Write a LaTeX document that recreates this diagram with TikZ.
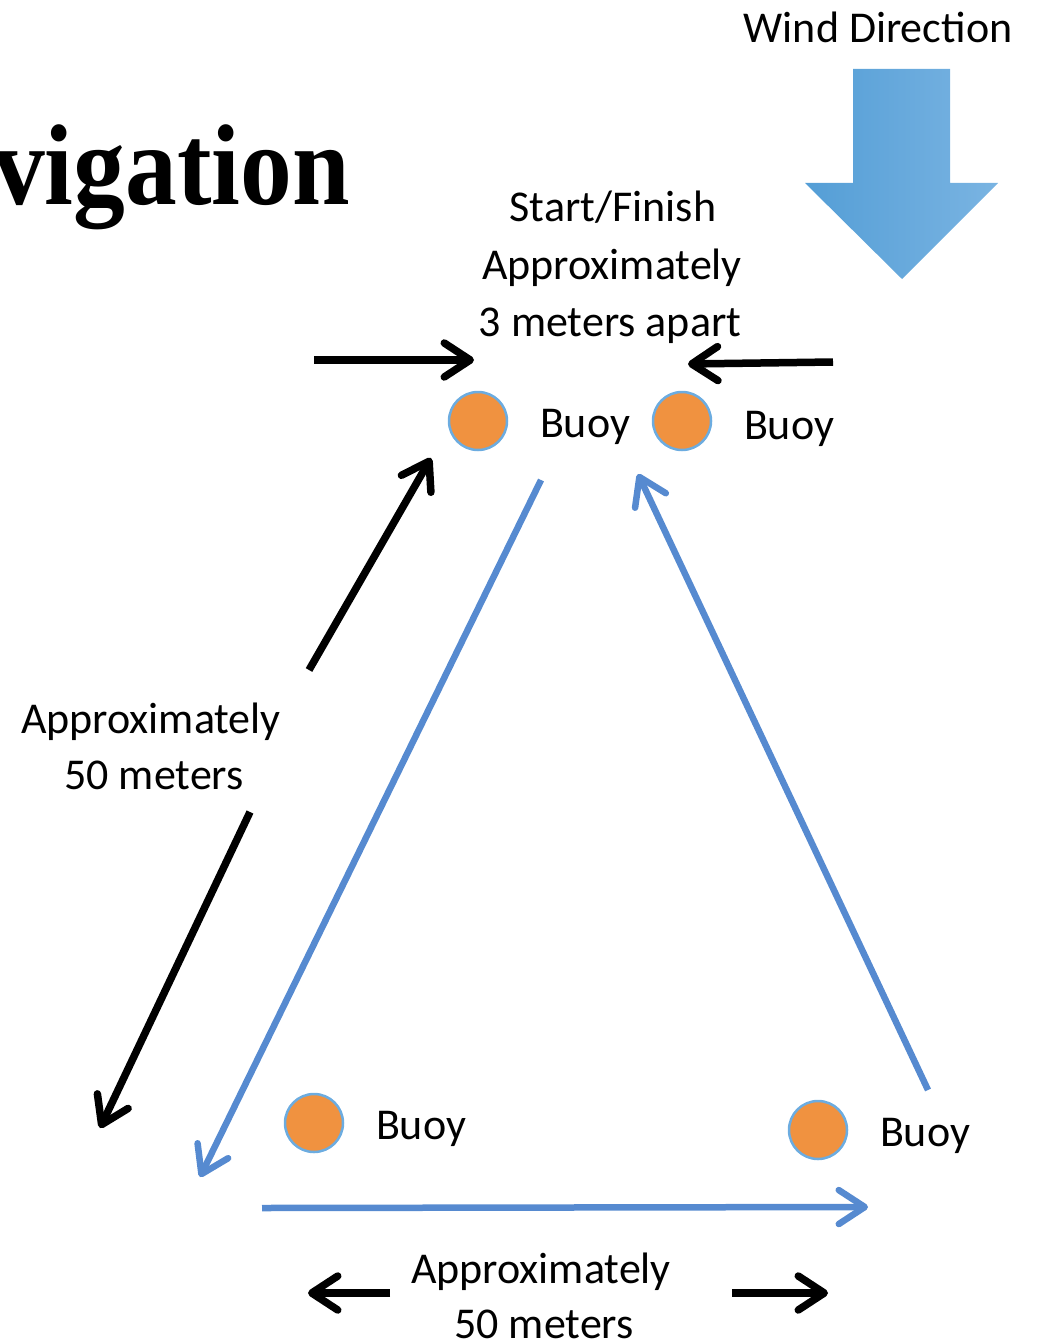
\documentclass[tikz,border=0pt]{standalone}
\usepackage{fontspec}
\setmainfont{Carlito}
\newfontfamily\titlefont[FakeStretch=0.9]{Liberation Serif}
\usetikzlibrary{arrows.meta}
\definecolor{buoyorange}{RGB}{240,146,64}
\definecolor{buoyedge}{RGB}{108,172,224}
\definecolor{course}{RGB}{86,138,208}
\definecolor{windL}{RGB}{84,158,214}
\definecolor{windR}{RGB}{122,180,226}
\begin{document}
\begin{tikzpicture}[x=1pt,y=-1pt,
  lbl/.style={font=\fontsize{44}{57}\selectfont, inner sep=0pt, anchor=base},
  buoy/.style={circle, fill=buoyorange, draw=buoyedge, line width=2.5pt, minimum size=58pt, inner sep=0pt},
  blk/.style={line width=7.5pt, -{Straight Barb[length=26pt,width=34pt,round]}},
  crs/.style={draw=course, line width=6.5pt, -{Straight Barb[length=26pt,width=34pt,round]}},
]
\useasboundingbox (0,0) rectangle (1038,1340);

% title
\node[anchor=base west, inner sep=0pt, font=\titlefont\bfseries\fontsize{115}{120}\selectfont] (title) at (-7,205) {vigation};

% wind arrow
\node[lbl] (wind) at (878,43) {Wind Direction};
\shade[left color=windL, right color=windR]
  (853,69) -- (950,69) -- (950,183) -- (998,183) -- (902,279) -- (805,183) -- (853,183) -- cycle;

% start/finish text
\node[lbl] (sf1) at (613,222) {Start/Finish};
\node[lbl] (sf2) at (612,279) {Approximately};
\node[lbl] (sf3) at (610,336) {3 meters apart};

% buoys
\node[buoy] (b1) at (478,421) {};
\node[buoy] (b2) at (682,421) {};
\node[buoy] (b3) at (314,1123) {};
\node[buoy] (b4) at (818,1130) {};
\node[lbl] (lb1) at (585,437) {Buoy};
\node[lbl] (lb2) at (789,439) {Buoy};
\node[lbl] (lb3) at (421,1139) {Buoy};
\node[lbl] (lb4) at (925,1146) {Buoy};

% black arrows at start line
\coordinate (sa1) at (314,360);
\coordinate (sa2) at (474,360);
\coordinate (sb1) at (833,362);
\coordinate (sb2) at (688,364);
\draw[blk] (sa1) -- (sa2);
\draw[blk] (sb1) -- (sb2);

% course lines
\coordinate (c1) at (541,480);
\coordinate (c2) at (200,1177);
\coordinate (c3) at (262,1208);
\coordinate (c4) at (868,1207);
\coordinate (c5) at (928,1090);
\coordinate (c6) at (638,474);
\draw[crs] (c1) -- (c2);
\draw[crs] (c3) -- (c4);
\draw[crs] (c5) -- (c6);

% left distance
\node[lbl] (l1) at (151,733) {Approximately};
\node[lbl] (l2) at (154,789) {50 meters};
\coordinate (d1) at (309,670);
\coordinate (d2) at (431,458);
\coordinate (d3) at (250,812);
\coordinate (d4) at (100,1128);
\draw[blk] (d1) -- (d2);
\draw[blk] (d3) -- (d4);

% bottom distance
\node[lbl] (m1) at (541,1283) {Approximately};
\node[lbl] (m2) at (544,1338) {50 meters};
\coordinate (e1) at (390,1293);
\coordinate (e2) at (308,1293);
\coordinate (e3) at (732,1293);
\coordinate (e4) at (828,1293);
\draw[blk] (e1) -- (e2);
\draw[blk] (e3) -- (e4);
\end{tikzpicture}
\end{document}
